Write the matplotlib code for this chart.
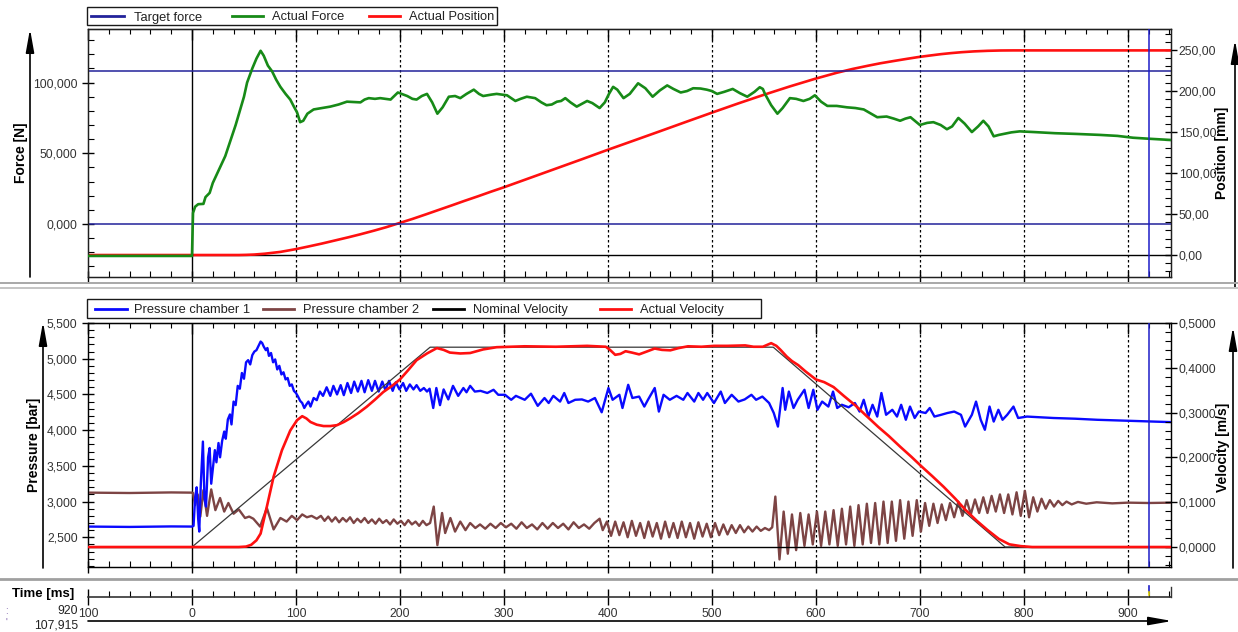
import matplotlib
matplotlib.use("Agg")
import matplotlib.pyplot as plt
from matplotlib.lines import Line2D
from matplotlib.patches import Rectangle, FancyArrowPatch
from matplotlib.ticker import MultipleLocator, FuncFormatter, NullFormatter

plt.rcParams['font.family'] = ['Liberation Sans', 'DejaVu Sans']

# ---------------- data (time in ms) ----------------
target_force = 107.915          # shown in kN-style units with 3 decimals
cursor_ms = 920

force_t = [-100, 0, 1, 3, 6, 11, 13, 17, 20, 27,
           32, 37, 42, 46, 50, 53, 58, 62, 66, 69,
           73, 77, 81, 85, 90, 94.5, 98, 101, 104, 107,
           111, 117, 125, 133, 141, 149, 155, 162, 166, 170,
           176, 181, 186, 191, 198, 207, 212, 216, 221, 226,
           231, 236, 241, 247, 253, 258, 264, 271, 276, 280,
           288, 293, 298, 303, 311, 316, 322, 330, 336, 341,
           346, 351, 355, 359, 364, 370, 375, 380, 385, 392,
           397, 401, 405, 409, 415, 421, 429, 436, 443, 450,
           457, 463, 470, 476, 482, 489, 495, 500, 505, 512,
           520, 527, 534, 541, 546, 549, 551, 557, 563, 568,
           575, 581, 588, 594, 599, 605, 611, 620, 630, 638,
           646, 652, 659, 668, 675, 681, 686, 691, 696, 700,
           707, 713, 720, 726, 731, 737, 743, 750, 756, 761,
           766, 771, 776, 780, 788, 796, 810, 830, 850, 873,
           890, 905, 920, 941.5]
force_v = [-22.6, -22.6, 7.8, 12.2, 14.0, 14.2, 19.0, 22, 29, 40,
           48, 59, 70, 80, 90, 100, 110, 117, 122.5, 119,
           112, 108, 102, 97, 92, 88, 83, 79, 72, 73,
           78, 81, 82, 83, 84.5, 86.5, 86.3, 86, 88, 89,
           88.5, 89, 88.5, 88, 93, 90.5, 88.5, 88, 90.5, 92,
           86, 78, 82.5, 90, 90.5, 89, 92, 95, 92, 90.5,
           91.5, 92, 91.5, 91, 87, 88.5, 90, 89, 86, 84,
           84.5, 86.5, 87, 89, 86, 83, 85, 87, 85.5, 82,
           86, 92, 97, 95, 89, 92, 99.5, 96, 90, 94.5,
           98, 95.5, 93, 94, 96, 95.8, 95, 94, 92, 93.5,
           95.5, 92.5, 90, 93.5, 96.7, 95.5, 92, 84, 78, 82,
           89, 88.5, 87, 88.5, 91, 86.5, 83.5, 83.5, 82.5, 82,
           81, 78.5, 75.5, 76, 74.5, 73, 74.5, 75.5, 72.5, 70,
           71.5, 72, 70, 67, 69, 75, 71, 65, 69, 73,
           69, 62, 63, 63.6, 64.8, 65.5, 65, 64.2, 63.7, 63,
           62.3, 61, 60.3, 59.4]

position_t = [-100, 0, 45, 52, 60, 70, 85, 100, 112, 125,
              137, 150, 162, 175, 187, 198, 212, 225, 237, 250,
              262, 275, 287, 300, 325, 350, 375, 399, 425, 450,
              475, 500, 525, 550, 575, 599, 620, 635, 650, 662,
              675, 687, 698, 710, 720, 730, 740, 752, 765, 778,
              790, 941.5]
position_v = [0, 0, 0, 0.2, 0.6, 1.6, 3.8, 7.2, 10.4, 14.0,
              17.6, 21.5, 25.3, 29.7, 34.0, 38.4, 44.0, 49.6, 54.9, 60.6,
              66.0, 71.6, 77.0, 82.6, 94.0, 105.4, 116.8, 127.9, 139.6, 150.9,
              162.3, 173.6, 184.7, 195.4, 205.6, 214.8, 222.2, 226.8, 230.8, 233.8,
              236.6, 239.1, 241.3, 243.3, 244.9, 246.2, 247.3, 248.3, 249.0, 249.4,
              249.5, 249.5]

# pressure chamber 1: (time, pressure)
pressure1 = [
    (-100, 2.650), (-60, 2.645), (-20, 2.652), (0, 2.650), (1.5, 2.66), (3, 3.05), (4.5, 3.20),
    (6, 2.75), (7, 2.58), (8.5, 3.25), (10.5, 3.84), (12, 3.05), (13.5, 2.93), (15.5, 3.62),
    (17, 3.75), (18.5, 3.25), (20, 3.45), (22, 3.72), (23.5, 3.55), (25.5, 3.82), (27, 3.62),
    (29, 3.85), (31, 3.98), (32.5, 3.88), (34.5, 4.15), (36.5, 4.22), (38, 4.08), (40, 4.40),
    (42, 4.35), (44, 4.62), (46, 4.58), (48, 4.80), (50, 4.72), (52, 4.95), (54, 4.98),
    (56, 4.92), (58, 5.05), (60, 5.10), (62, 5.12), (64, 5.18), (66, 5.24), (67.5, 5.22),
    (69, 5.17), (71, 5.12), (72.5, 5.15), (74, 5.04), (76, 5.08), (78, 4.95), (80, 4.99),
    (82, 4.85), (84, 4.90), (86, 4.78), (88, 4.81), (90, 4.71), (92, 4.73), (94, 4.62),
    (96, 4.64), (98, 4.55), (100, 4.52), (102, 4.47), (104, 4.41), (106, 4.38), (108, 4.31),
    (110, 4.36), (112, 4.40), (114, 4.33), (117, 4.45), (120, 4.42), (123, 4.54), (126, 4.48),
    (129.5, 4.60), (133, 4.48), (136, 4.62), (139.5, 4.50), (143, 4.63), (146, 4.49),
    (149.5, 4.66), (153, 4.52), (156, 4.68), (159.5, 4.54), (163, 4.69), (166, 4.53),
    (169.5, 4.70), (173, 4.55), (176, 4.69), (179.5, 4.54), (183, 4.68), (186, 4.56),
    (189.5, 4.69), (193, 4.55), (196, 4.67), (199.5, 4.57), (203, 4.66), (206, 4.55),
    (209.5, 4.64), (213, 4.57), (216, 4.63), (219.5, 4.55), (223, 4.59), (226, 4.54),
    (228.5, 4.58), (232, 4.31), (235, 4.59), (238.5, 4.35), (242, 4.57), (246.5, 4.43),
    (251, 4.62), (256, 4.48), (261, 4.59), (264, 4.53), (267.5, 4.62), (272, 4.54),
    (277.5, 4.55), (284, 4.52), (290, 4.565), (294.5, 4.495), (301, 4.495), (307, 4.425),
    (311.5, 4.48), (320, 4.425), (326, 4.51), (332.5, 4.34), (339, 4.45), (343, 4.38),
    (347.5, 4.48), (354, 4.40), (358, 4.52), (362, 4.38), (368.5, 4.425), (375, 4.43),
    (381, 4.40), (387.5, 4.45), (394, 4.25), (400.5, 4.59), (404.5, 4.425), (411, 4.495),
    (414, 4.31), (419.5, 4.635), (423.5, 4.45), (430, 4.47), (435, 4.33), (438.5, 4.425),
    (445, 4.59), (449, 4.26), (453.5, 4.495), (459.5, 4.425), (466, 4.48), (472.5, 4.425),
    (476.5, 4.52), (483, 4.40), (487, 4.52), (491.5, 4.425), (495.5, 4.52), (502, 4.38),
    (508.5, 4.54), (512.5, 4.38), (519, 4.495), (525.5, 4.40), (531.5, 4.43), (538, 4.495),
    (542.5, 4.425), (548.5, 4.47), (555, 4.38), (559.5, 4.24), (563.5, 4.05), (568, 4.59),
    (570.5, 4.285), (574, 4.54), (578.5, 4.31), (582.5, 4.425), (589, 4.565), (593, 4.31),
    (597.5, 4.565), (601.5, 4.285), (606, 4.40), (612, 4.33), (616.5, 4.54), (620.5, 4.31),
    (625, 4.355), (631.5, 4.32), (637.5, 4.38), (642, 4.26), (646, 4.425), (650.5, 4.19),
    (654.5, 4.355), (659, 4.19), (663, 4.52), (667.5, 4.215), (673.5, 4.285), (678, 4.19),
    (682, 4.355), (686.5, 4.145), (690.5, 4.33), (695, 4.17), (699, 4.26), (705.5, 4.24),
    (709.5, 4.31), (714, 4.19), (720.5, 4.215), (726.5, 4.24), (733, 4.26), (739.5, 4.215),
    (743.5, 4.05), (750, 4.215), (754, 4.40), (758.5, 4.145), (762.5, 4.005), (767, 4.33),
    (771, 4.12), (775.5, 4.285), (779.5, 4.145), (784, 4.215), (790, 4.33), (794.5, 4.17),
    (803, 4.19), (815.5, 4.18), (828.5, 4.17), (849.5, 4.16), (870.5, 4.145), (892, 4.135),
    (913, 4.126), (942, 4.112),
]

# pressure chamber 2: (time, pressure)
pressure2 = [
    (-100, 3.125), (-60, 3.12), (-20, 3.128), (0, 3.125), (1, 3.12), (3, 2.95), (5.5, 3.10),
    (8, 2.79), (11, 3.16), (14.5, 2.80), (18.5, 3.17), (22.5, 2.88), (27, 3.05), (31, 2.86),
    (35, 2.98), (40, 2.83), (45, 2.89), (51, 2.77), (55, 2.79), (59, 2.76), (65.5, 2.65),
    (72, 2.91), (78.5, 2.61), (85, 2.77), (91, 2.72), (96, 2.80), (101, 2.74), (106, 2.82),
    (110.5, 2.78), (115, 2.80), (120, 2.76), (124, 2.80), (127.5, 2.73), (131, 2.79),
    (134.5, 2.72), (138, 2.78), (141.5, 2.71), (145, 2.77), (148.5, 2.72), (152, 2.78),
    (155.5, 2.70), (159, 2.76), (162.5, 2.71), (166, 2.77), (169.5, 2.70), (173, 2.75),
    (176.5, 2.69), (180, 2.76), (183.5, 2.70), (187, 2.74), (190.5, 2.68), (194, 2.75),
    (197.5, 2.69), (201, 2.73), (204.5, 2.67), (208, 2.74), (211.5, 2.68), (215, 2.72),
    (218.5, 2.66), (222, 2.73), (225.5, 2.67), (229, 2.70), (232.5, 2.93), (236, 2.39),
    (240.5, 2.84), (243.5, 2.56), (248.5, 2.77), (253, 2.58), (258, 2.72), (263, 2.60),
    (267.5, 2.70), (272.5, 2.63), (277, 2.68), (282, 2.62), (287, 2.69), (292, 2.63),
    (297, 2.70), (302, 2.64), (307, 2.69), (312, 2.62), (317, 2.71), (322, 2.63), (327, 2.68),
    (332, 2.61), (337, 2.70), (342, 2.62), (347, 2.70), (352, 2.63), (357, 2.69), (362, 2.61),
    (367, 2.71), (372, 2.63), (377, 2.68), (382, 2.62), (387, 2.70), (392, 2.76), (395, 2.60),
    (399, 2.72), (403, 2.52), (407, 2.72), (411, 2.53), (415, 2.71), (419, 2.50), (423, 2.73),
    (427, 2.52), (431, 2.70), (435, 2.49), (439, 2.72), (443, 2.51), (447, 2.70), (451, 2.48),
    (455, 2.72), (459, 2.50), (463, 2.70), (467, 2.49), (471, 2.72), (475, 2.50), (479, 2.70),
    (483, 2.48), (487, 2.71), (491, 2.51), (495, 2.69), (499, 2.50), (503, 2.70), (507, 2.53),
    (511, 2.68), (515, 2.54), (519, 2.67), (523, 2.56), (527, 2.67), (531, 2.57), (535, 2.65),
    (539, 2.58), (543, 2.65), (547, 2.59), (551, 2.63), (555, 2.60), (558, 2.64), (561, 3.07),
    (565, 2.19), (569, 2.86), (573, 2.27), (577, 2.82), (581, 2.32), (585, 2.84), (589, 2.38),
    (593, 2.82), (597, 2.40), (601, 2.86), (605, 2.38), (609, 2.86), (613, 2.40), (617, 2.88),
    (621, 2.38), (625, 2.90), (629, 2.40), (633, 2.93), (637, 2.38), (641, 2.95), (645, 2.40),
    (649, 2.97), (653, 2.42), (657, 2.98), (661, 2.40), (665, 3.00), (669, 2.42), (673, 3.00),
    (677, 2.45), (681, 3.02), (685, 2.48), (689, 3.00), (693, 2.52), (697, 3.02), (701, 2.58),
    (705, 2.98), (709, 2.66), (713, 2.97), (717, 2.70), (721, 2.96), (725, 2.74), (729, 2.98),
    (733, 2.78), (737, 3.00), (741, 2.80), (745, 3.02), (749, 2.82), (753, 3.03), (757, 2.84),
    (761, 3.06), (765, 2.84), (769, 3.08), (773, 2.86), (777, 3.10), (781, 2.84), (785, 3.10),
    (789, 2.82), (793, 3.13), (797, 2.80), (801, 3.15), (805, 2.78), (809, 3.06), (813, 2.86),
    (817, 3.04), (821, 2.90), (825, 3.02), (829, 2.93), (833, 3.01), (837, 2.95), (841, 3.00),
    (846, 2.96), (852, 2.995), (860, 2.97), (870, 2.99), (885, 2.975), (900, 2.985),
    (920, 2.98), (942, 2.985),
]

# actual velocity: (time, m/s)
velocity_actual = [
    (-100, 0), (0, 0), (45, 0), (52, 0.001), (57, 0.005), (62, 0.015), (66, 0.03), (72, 0.09),
    (78.5, 0.157), (86.5, 0.216), (94.5, 0.26), (101, 0.283), (106, 0.292), (110, 0.287),
    (114, 0.279), (120, 0.273), (126.5, 0.27), (133, 0.27), (139.5, 0.272), (146, 0.279),
    (152, 0.287), (160, 0.299), (168, 0.313), (176, 0.329), (184, 0.346), (192, 0.359),
    (200, 0.374), (208, 0.395), (216, 0.417), (226, 0.432), (235.5, 0.444), (242, 0.44),
    (248, 0.434), (258, 0.432), (267.5, 0.433), (280, 0.441), (293, 0.446), (320, 0.448),
    (350, 0.447), (380, 0.449), (398, 0.447), (402, 0.440), (407, 0.429), (412, 0.431),
    (417, 0.437), (423, 0.434), (430, 0.430), (437, 0.436), (445, 0.443), (452, 0.440),
    (460, 0.439), (468, 0.444), (477, 0.448), (490, 0.447), (502, 0.449), (515, 0.449),
    (532, 0.450), (540, 0.447), (549, 0.447), (557, 0.455), (562, 0.449), (566, 0.440),
    (572, 0.425), (577, 0.415), (583, 0.406), (590, 0.392), (600, 0.374), (608, 0.368),
    (617, 0.357), (627, 0.337), (638, 0.316), (648, 0.294), (660, 0.268), (670, 0.248),
    (681, 0.224), (692, 0.201), (702, 0.179), (712, 0.158), (723, 0.134), (734, 0.108),
    (744, 0.0825), (755, 0.058), (765, 0.038), (776, 0.018), (786, 0.006), (797, 0.002),
    (808, 0.0), (942, 0.0),
]

# nominal velocity profile: (time, m/s)
velocity_nominal = [(-100, 0), (0, 0), (101, 0.197), (229, 0.446), (559, 0.446), (782, 0), (942, 0)]

time_ticks = [-100, 0, 100, 200, 300, 400, 500, 600, 700, 800, 900]
time_labels = ['100', '0', '100', '200', '300', '400', '500', '600', '700', '800', '900']
grid_ms = [100, 200, 300, 400, 500, 600, 700, 800, 900]

# ---------------- styling ----------------
C_TARGET = '#22229a'
C_FORCE = '#178a17'
C_RED = '#ff1010'
C_P1 = '#0a0aff'
C_P2 = '#7d4444'
C_NOM = '#383838'
C_CURSOR = '#1e1ec8'
TXT = '#222222'
TICKTXT = '#333333'

W, H = 1238, 632
fig = plt.figure(figsize=(W / 100, H / 100), dpi=100)
fig.patch.set_facecolor('white')


def fx(px):
    return px / W


def fy(py):
    return 1 - py / H


XMIN, XMAX = -100, 941.5
PLOT_L, PLOT_R = 88, 1171


def comma_fmt(decimals):
    return FuncFormatter(lambda v, p: f"{v:.{decimals}f}".replace('.', ','))


def style_panel(ax):
    ax.set_xlim(XMIN, XMAX)
    ax.xaxis.set_major_locator(MultipleLocator(100))
    ax.xaxis.set_minor_locator(MultipleLocator(20))
    ax.xaxis.set_major_formatter(NullFormatter())
    ax.tick_params(axis='x', which='both', top=False, bottom=True, labelbottom=False)
    ax.tick_params(axis='x', which='major', direction='inout', length=9, width=1)
    ax.tick_params(axis='x', which='minor', direction='in', length=4, width=0.8)
    sec = ax.secondary_xaxis('top')
    sec.xaxis.set_major_locator(MultipleLocator(100))
    sec.xaxis.set_minor_locator(MultipleLocator(20))
    sec.xaxis.set_major_formatter(NullFormatter())
    sec.tick_params(which='major', direction='in', length=8, width=1)
    sec.tick_params(which='minor', direction='in', length=3.5, width=0.8)
    for s in ax.spines.values():
        s.set_linewidth(1.0)
        s.set_color('#202020')
    for g in grid_ms:
        ax.axvline(g, color='black', lw=0.9, ls=(0, (2, 2)), zorder=0.5)
    ax.axvline(0, color='black', lw=1.0, zorder=0.6)


def style_y(ax, major, minor, decimals, side):
    ax.yaxis.set_major_locator(major)
    ax.yaxis.set_minor_locator(minor)
    ax.yaxis.set_major_formatter(comma_fmt(decimals))
    ax.tick_params(axis='y', which='major', direction='inout', length=9, width=1,
                   labelsize=8.7, labelcolor=TICKTXT, pad=3 if side == 'left' else 1)
    ax.tick_params(axis='y', which='minor', direction='in', length=4, width=0.8)


# ---------------- top panel: force & position ----------------
ax1 = fig.add_axes([fx(PLOT_L), fy(277), (PLOT_R - PLOT_L) / W, (277 - 29) / H])
ax1r = ax1.twinx()
ax1.set_zorder(ax1r.get_zorder() + 1)
ax1.patch.set_visible(False)
style_panel(ax1)
ax1.set_ylim(-37.5, 137.9)
ax1r.set_ylim(-26.8, 275.6)
style_y(ax1, MultipleLocator(50), MultipleLocator(10), 3, 'left')
style_y(ax1r, MultipleLocator(50), MultipleLocator(10), 2, 'right')
ax1.set_yticks([0, 50, 100])
ax1r.set_yticks([0, 50, 100, 150, 200, 250])

ax1r.axhline(0, color='black', lw=1.0, zorder=1)
ax1r.plot(position_t, position_v, color=C_RED, lw=1.9, zorder=3, solid_joinstyle='round')
ax1.axhline(target_force, color=C_TARGET, lw=1.1, zorder=2)
ax1.axhline(0, color=C_TARGET, lw=1.1, zorder=2)
ax1.plot(force_t, force_v, color=C_FORCE, lw=1.9, zorder=3, solid_joinstyle='round')
ax1.axvline(cursor_ms, color=C_CURSOR, lw=1.1, zorder=6)

# ---------------- bottom panel: pressures & velocities ----------------
ax2 = fig.add_axes([fx(PLOT_L), fy(567), (PLOT_R - PLOT_L) / W, (567 - 323) / H])
ax2r = ax2.twinx()
style_panel(ax2)
ax2.set_ylim(2.084, 5.5)
ax2r.set_ylim(-0.0446, 0.5)
style_y(ax2, MultipleLocator(0.5), MultipleLocator(0.1), 3, 'left')
style_y(ax2r, MultipleLocator(0.1), MultipleLocator(0.02), 4, 'right')
ax2.set_yticks([2.5, 3.0, 3.5, 4.0, 4.5, 5.0, 5.5])

p1_t, p1_v = zip(*pressure1)
p2_t, p2_v = zip(*pressure2)
va_t, va_v = zip(*velocity_actual)
vn_t, vn_v = zip(*velocity_nominal)
ax2.plot(p2_t, p2_v, color=C_P2, lw=1.7, zorder=3, solid_joinstyle='round')
ax2.plot(p1_t, p1_v, color=C_P1, lw=1.7, zorder=4, solid_joinstyle='round')
ax2r.axhline(0, color='black', lw=1.0, zorder=1)
ax2r.plot(vn_t, vn_v, color=C_NOM, lw=0.9, zorder=2)
ax2r.plot(va_t, va_v, color=C_RED, lw=1.9, zorder=3, solid_joinstyle='round')
ax2r.axvline(cursor_ms, color=C_CURSOR, lw=1.1, zorder=6)

# ---------------- time axis strip ----------------
axt = fig.add_axes([fx(PLOT_L), fy(597), (PLOT_R - PLOT_L) / W, 10 / H])
axt.patch.set_visible(False)
axt.set_xlim(XMIN, XMAX)
axt.set_ylim(0, 1)
for side in ('top', 'left'):
    axt.spines[side].set_visible(False)
axt.spines['bottom'].set_linewidth(1.2)
axt.spines['bottom'].set_color('#333333')
axt.spines['right'].set_linewidth(1.0)
axt.spines['right'].set_color('#333333')
axt.set_yticks([])
axt.set_xticks(time_ticks)
axt.set_xticklabels(time_labels)
axt.xaxis.set_minor_locator(MultipleLocator(20))
axt.tick_params(axis='x', which='major', direction='inout', length=12, width=1,
                labelsize=8.7, labelcolor=TICKTXT, pad=2)
axt.tick_params(axis='x', which='minor', direction='in', length=4, width=0.8)
axt.axvline(cursor_ms, ymin=0.5, ymax=1.1, color=C_CURSOR, lw=1.2, clip_on=False)
axt.axvline(cursor_ms, ymin=0.2, ymax=0.5, color='#e0d000', lw=1.2, clip_on=False)

# ---------------- legends ----------------
def legend_box(x0, x1, y0, y1, entries):
    fig.add_artist(Rectangle((fx(x0), fy(y1)), fx(x1) - fx(x0), fy(y0) - fy(y1),
                             transform=fig.transFigure, facecolor='white',
                             edgecolor='#1a1a1a', lw=1.0, zorder=5))
    yc = (y0 + y1) / 2
    for lx0, lx1, tx, label, color in entries:
        fig.add_artist(Line2D([fx(lx0), fx(lx1)], [fy(yc), fy(yc)], transform=fig.transFigure,
                              color=color, lw=2.0, zorder=6))
        fig.text(fx(tx), fy(yc + 4.5), label, ha='left', va='baseline', fontsize=9.3,
                 color=TXT, zorder=6)


legend_box(87, 497, 7, 25, [
    (91, 124, 134, 'Target force', C_TARGET),
    (232, 263, 272, 'Actual Force', C_FORCE),
    (369, 400, 409, 'Actual Position', C_RED),
])
legend_box(87, 761, 299, 318, [
    (95, 127, 134, 'Pressure chamber 1', C_P1),
    (263, 294, 303, 'Pressure chamber 2', C_P2),
    (433, 464, 473, 'Nominal Velocity', 'black'),
    (600, 631, 640, 'Actual Velocity', C_RED),
])

# ---------------- axis titles & arrows ----------------
lbl = dict(rotation=90, fontweight='bold', fontsize=10, ha='center', va='center', color='black')
fig.text(fx(21), fy(153), 'Force [N]', **lbl)
fig.text(fx(1222), fy(153), 'Position [mm]', **lbl)
fig.text(fx(34), fy(445), 'Pressure [bar]', **lbl)
fig.text(fx(1223), fy(447), 'Velocity [m/s]', **lbl)
fig.text(fx(12), fy(594), 'Time [ms]', fontweight='bold', fontsize=9.5, ha='left',
         va='center', color='black')


def arrow(x0, y0, x1, y1):
    fig.add_artist(FancyArrowPatch((fx(x0), fy(y0)), (fx(x1), fy(y1)),
                                   transform=fig.transFigure,
                                   arrowstyle='-|>,head_length=1.4,head_width=0.25',
                                   mutation_scale=10, color='black', lw=1.2,
                                   shrinkA=0, shrinkB=0))


arrow(30, 277, 30, 29)
arrow(1235, 287, 1235, 40)
arrow(43, 568, 43, 322)
arrow(1233, 568, 1233, 327)
arrow(88, 621, 1172, 621)

# ---------------- separators ----------------
for y, c, w in [(283, '#a8a8a8', 1.4), (288, '#c4c4c4', 1.4), (579, '#a0a0a0', 2.0)]:
    fig.add_artist(Line2D([fx(0), fx(W)], [fy(y), fy(y)], transform=fig.transFigure,
                          color=c, lw=w))

# ---------------- cursor readout ----------------
fig.text(fx(78), fy(611), f"{cursor_ms}", ha='right', va='center', fontsize=8.7, color=TXT)
fig.text(fx(78), fy(626), f"{target_force:.3f}".replace('.', ','), ha='right', va='center',
         fontsize=8.7, color=TXT)
fig.text(fx(5), fy(611), ':', ha='left', va='center', fontsize=7, color='#7a5aa8')
fig.text(fx(5), fy(623), "'", ha='left', va='center', fontsize=7, color='#7a5aa8')

fig.savefig('out.png', dpi=100)
